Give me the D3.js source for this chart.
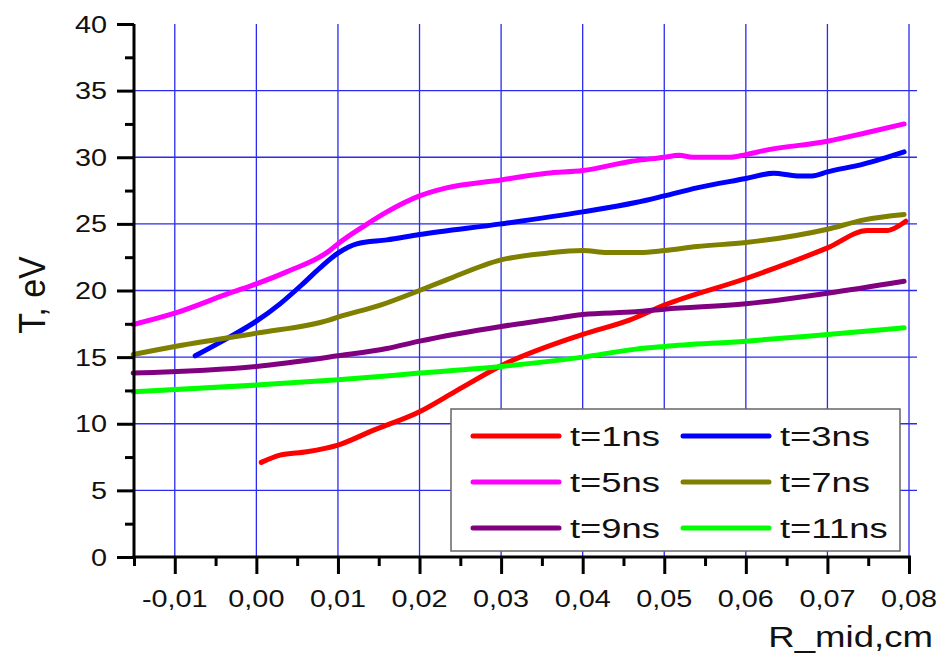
<!DOCTYPE html>
<html>
<head>
<meta charset="utf-8">
<script src="https://cdn.jsdelivr.net/npm/d3@7"></script>
<style>
  html, body { margin: 0; padding: 0; background: #fff; }
  svg text { font-family: "Liberation Sans", Arial, sans-serif; fill: #111; }
</style>
</head>
<body>
<svg id="chart" width="943" height="656"></svg>
<script>
// Radius (cm) and temperature (eV) samples for each time slice
const r1  = [0.0006, 0.0029, 0.0062, 0.0100, 0.0143, 0.0200, 0.0246, 0.0300, 0.0400, 0.0458, 0.0500, 0.0600, 0.0700, 0.0749, 0.0773, 0.0786, 0.0796];
const t1  = [7.1, 7.65, 7.9, 8.4, 9.5, 10.9, 12.5, 14.35, 16.7, 17.8, 18.9, 20.9, 23.2, 24.5, 24.5, 24.8, 25.2];

const r3  = [-0.0075, -0.0033, 0.0000, 0.0029, 0.0057, 0.0078, 0.0100, 0.0123, 0.0160, 0.0200, 0.0300, 0.0400, 0.0465, 0.0500, 0.0540, 0.0600, 0.0634, 0.0663, 0.0681, 0.0700, 0.0745, 0.0794];
const t3  = [15.1, 16.5, 17.7, 19.0, 20.5, 21.7, 22.8, 23.5, 23.8, 24.2, 25.0, 25.9, 26.6, 27.1, 27.7, 28.4, 28.8, 28.6, 28.6, 28.9, 29.5, 30.4];

const r5  = [-0.0151, -0.0100, -0.0033, 0.0000, 0.0037, 0.0090, 0.0100, 0.0131, 0.0160, 0.0200, 0.0233, 0.0300, 0.0356, 0.0400, 0.0460, 0.0500, 0.0518, 0.0535, 0.0581, 0.0600, 0.0622, 0.0700, 0.0745, 0.0794];
const t5  = [17.45, 18.3, 19.8, 20.5, 21.4, 23.0, 23.5, 24.8, 25.9, 27.1, 27.7, 28.3, 28.8, 29.0, 29.7, 30.0, 30.15, 30.0, 30.0, 30.2, 30.5, 31.2, 31.8, 32.5];

const r7  = [-0.0151, -0.0100, 0.0000, 0.0090, 0.0100, 0.0152, 0.0200, 0.0233, 0.0300, 0.0356, 0.0400, 0.0430, 0.0470, 0.0500, 0.0540, 0.0600, 0.0700, 0.0745, 0.0794];
const t7  = [15.2, 15.8, 16.8, 17.8, 18.0, 18.9, 20.0, 20.8, 22.3, 22.8, 23.0, 22.85, 22.85, 23.0, 23.3, 23.6, 24.6, 25.3, 25.7];

const r9  = [-0.0151, 0.0000, 0.0100, 0.0160, 0.0200, 0.0300, 0.0356, 0.0400, 0.0465, 0.0500, 0.0600, 0.0700, 0.0794];
const t9  = [13.8, 14.3, 15.1, 15.65, 16.2, 17.3, 17.8, 18.2, 18.4, 18.6, 19.0, 19.8, 20.7];

const r11 = [-0.0151, 0.0000, 0.0100, 0.0200, 0.0300, 0.0400, 0.0465, 0.0500, 0.0600, 0.0700, 0.0794];
const t11 = [12.4, 12.9, 13.3, 13.8, 14.3, 15.0, 15.6, 15.8, 16.2, 16.7, 17.2];

const seriesNames  = ["t=1ns", "t=3ns", "t=5ns", "t=7ns", "t=9ns", "t=11ns"];
const seriesColors = ["#ff0000", "#0000ff", "#ff00ff", "#808000", "#800080", "#00ff00"];
const seriesR = [r1, r3, r5, r7, r9, r11];
const seriesT = [t1, t3, t5, t7, t9, t11];

const xTicks = [-0.01, 0.00, 0.01, 0.02, 0.03, 0.04, 0.05, 0.06, 0.07, 0.08];
const xTickLabels = ["-0,01", "0,00", "0,01", "0,02", "0,03", "0,04", "0,05", "0,06", "0,07", "0,08"];
const yTicks = [0, 5, 10, 15, 20, 25, 30, 35, 40];
const yTickLabels = ["0", "5", "10", "15", "20", "25", "30", "35", "40"];
const xTitle = "R_mid,cm";
const yTitle = "T, eV";

const svg = d3.select("#chart");
const pLeft = 134, pRight = 909, pTop = 24, pBottom = 557;

const x = d3.scaleLinear().domain([-0.015, 0.08]).range([pLeft, pRight]);
const y = d3.scaleLinear().domain([0, 40]).range([pBottom, pTop]);

// wide text helper (glyphs drawn slightly stretched horizontally)
function wideText(g, tx, ty, str, size, sx, anchor) {
  return g.append("text")
    .attr("transform", `translate(${tx},${ty}) scale(${sx},1)`)
    .attr("text-anchor", anchor)
    .style("font-size", size + "px")
    .text(str);
}

// grid
const grid = svg.append("g").attr("stroke", "#2a2af0").attr("stroke-width", 1.3);
grid.selectAll("line.v").data(xTicks).join("line")
  .attr("class", "v")
  .attr("x1", d => x(d)).attr("x2", d => x(d))
  .attr("y1", pTop).attr("y2", pBottom);
grid.selectAll("line.h").data(yTicks.filter(d => d > 0 && d < 40)).join("line")
  .attr("class", "h")
  .attr("x1", pLeft).attr("x2", pRight + 8)
  .attr("y1", d => y(d)).attr("y2", d => y(d));

// series
const line = d3.line().curve(d3.curveMonotoneX);
const plot = svg.append("g");
seriesNames.forEach((name, i) => {
  const pts = seriesR[i].map((r, k) => [x(r), y(seriesT[i][k])]);
  plot.append("path")
    .attr("d", line(pts))
    .attr("fill", "none")
    .attr("stroke", seriesColors[i])
    .attr("stroke-width", 5)
    .attr("stroke-linecap", "round")
    .attr("stroke-linejoin", "round");
});

// axes
const yAxis = d3.axisLeft(y).tickValues(yTicks).tickSize(17).tickFormat("");
const yMinor = d3.axisLeft(y).tickValues(d3.range(2.5, 40, 5)).tickSize(9).tickFormat("");
const xAxis = d3.axisBottom(x).tickValues(xTicks).tickSize(17).tickFormat("");
const xMinor = d3.axisBottom(x).tickValues(d3.range(-0.015, 0.08, 0.01).map(v => +v.toFixed(3))).tickSize(9).tickFormat("");

function styleAxis(g) {
  g.selectAll("line").attr("stroke", "#000").attr("stroke-width", 3);
  g.select(".domain").remove();
}
svg.append("g").attr("transform", `translate(${pLeft},0)`).call(yAxis).call(styleAxis);
svg.append("g").attr("transform", `translate(${pLeft},0)`).call(yMinor).call(styleAxis);
svg.append("g").attr("transform", `translate(0,${pBottom})`).call(xAxis).call(styleAxis);
svg.append("g").attr("transform", `translate(0,${pBottom})`).call(xMinor).call(styleAxis);
svg.append("line").attr("x1", pLeft).attr("x2", pLeft).attr("y1", pTop).attr("y2", pBottom + 1.5)
  .attr("stroke", "#000").attr("stroke-width", 3);
svg.append("line").attr("x1", pLeft - 1.5).attr("x2", pRight + 2).attr("y1", pBottom).attr("y2", pBottom)
  .attr("stroke", "#000").attr("stroke-width", 3);

// tick labels
const labels = svg.append("g");
yTicks.forEach((v, i) => wideText(labels, 107, y(v) + 8.5, yTickLabels[i], 24, 1.2, "end"));
xTicks.forEach((v, i) => wideText(labels, x(v), 607, xTickLabels[i], 24, 1.2, "middle"));

// axis titles
wideText(svg, 933, 647, xTitle, 30, 1.22, "end");
svg.append("text")
  .attr("transform", "translate(45,295) rotate(-90) scale(1.1,1.2)")
  .attr("text-anchor", "middle")
  .style("font-size", "31px")
  .text(yTitle);

// legend
const lg = svg.append("g");
lg.append("rect").attr("x", 451).attr("y", 409).attr("width", 449).attr("height", 142)
  .attr("fill", "#fff").attr("stroke", "#666").attr("stroke-width", 1.5);
seriesNames.forEach((name, i) => {
  const col = i % 2, row = Math.floor(i / 2);
  const lx = col === 0 ? 473 : 683;
  const ly = 436 + row * 46;
  lg.append("line").attr("x1", lx).attr("x2", lx + 86).attr("y1", ly).attr("y2", ly)
    .attr("stroke", seriesColors[i]).attr("stroke-width", 5).attr("stroke-linecap", "round");
  wideText(lg, lx + 97, ly + 10, name, 28, 1.3, "start");
});
</script>
</body>
</html>
